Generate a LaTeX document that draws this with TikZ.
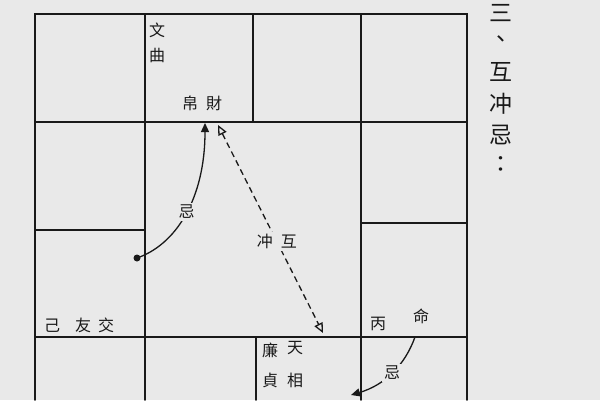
\documentclass[tikz,border=0pt]{standalone}
\usepackage{fontspec}
\setmainfont{Noto Sans CJK TC}
\usetikzlibrary{arrows.meta}
\definecolor{paper}{RGB}{233,233,233}
\definecolor{ink}{RGB}{25,25,25}
\tikzset{
  grid/.style={ink,line width=1.8pt,line cap=round},
  mark label/.style={ink,inner sep=1pt,font=\fontsize{16}{16}\selectfont},
  cut label/.style={mark label,fill=paper,inner sep=2pt},
  title char/.style={ink,inner sep=0pt,font=\fontsize{23}{23}\selectfont},
  link/.style={ink,line width=1.3pt},
}
\begin{document}
\begin{tikzpicture}[x=1pt,y=-1pt]
    \useasboundingbox[fill=paper] (0,0) rectangle (600,400);
    %% chart frame
    \draw[grid] (35,400) -- (35,14) -- (467,14) -- (467,400);
    \draw[grid] (35,122) -- (467,122);
    \draw[grid] (35,337) -- (467,337);
    \draw[grid] (35,230) -- (145,230);
    \draw[grid] (361,223) -- (467,223);
    \draw[grid] (145,14) -- (145,400);
    \draw[grid] (361,14) -- (361,400);
    \draw[grid] (253,14) -- (253,122);
    \draw[grid] (256,337) -- (256,400);
    %% palace labels
    \node[mark label] (wen) at (157,30) {文};
    \node[mark label] (qu) at (157,55) {曲};
    \node[mark label] (bo) at (190,103) {帛};
    \node[mark label] (cai) at (214,103) {財};
    \node[mark label] (ji) at (52,326) {己};
    \node[mark label] (you) at (83,325) {友};
    \node[mark label] (jiao) at (106,325) {交};
    \node[mark label] (bing) at (378,324) {丙};
    \node[mark label] (ming) at (421,316) {命};
    \node[mark label] (lian) at (270,350) {廉};
    \node[mark label] (zhen) at (270,380) {貞};
    \node[mark label] (tian) at (295,348) {天};
    \node[mark label] (xiang) at (295,380) {相};
    %% title
    \foreach \ch/\yy [count=\i] in {三/13,、/42,互/72,冲/104,忌/135,：/165}
        \node[title char] (t\i) at (501,\yy) {\ch};
    %% ji from the friends palace
    \coordinate (dotL) at (137,258);
    \coordinate (tipL) at (205,123);
    \fill[ink] (dotL) circle (3.5);
    \draw[link,-{Triangle[width=8pt,length=9pt]}] (dotL) .. controls (175,245) and (205,200) .. (tipL)
        node[cut label,pos=0.52] (jiL) {忌};
    %% mutual clash
    \coordinate (clashA) at (218,125);
    \coordinate (clashB) at (323,333);
    \draw[link,dashed,dash pattern=on 6pt off 4pt,{Triangle[open,width=9pt,length=10pt]}-{Triangle[open,width=9pt,length=10pt]}]
        (clashA) -- (clashB) node[cut label,pos=0.56] (clash) {冲\hspace{8pt}互};
    %% ji from the life palace
    \coordinate (startR) at (415,337);
    \coordinate (tipR) at (351,395);
    \draw[link,-{Triangle[width=8pt,length=9pt]}] (startR) .. controls (405,365) and (385,385) .. (tipR)
        node[cut label,pos=0.5] (jiR) {忌};
\end{tikzpicture}
\end{document}
